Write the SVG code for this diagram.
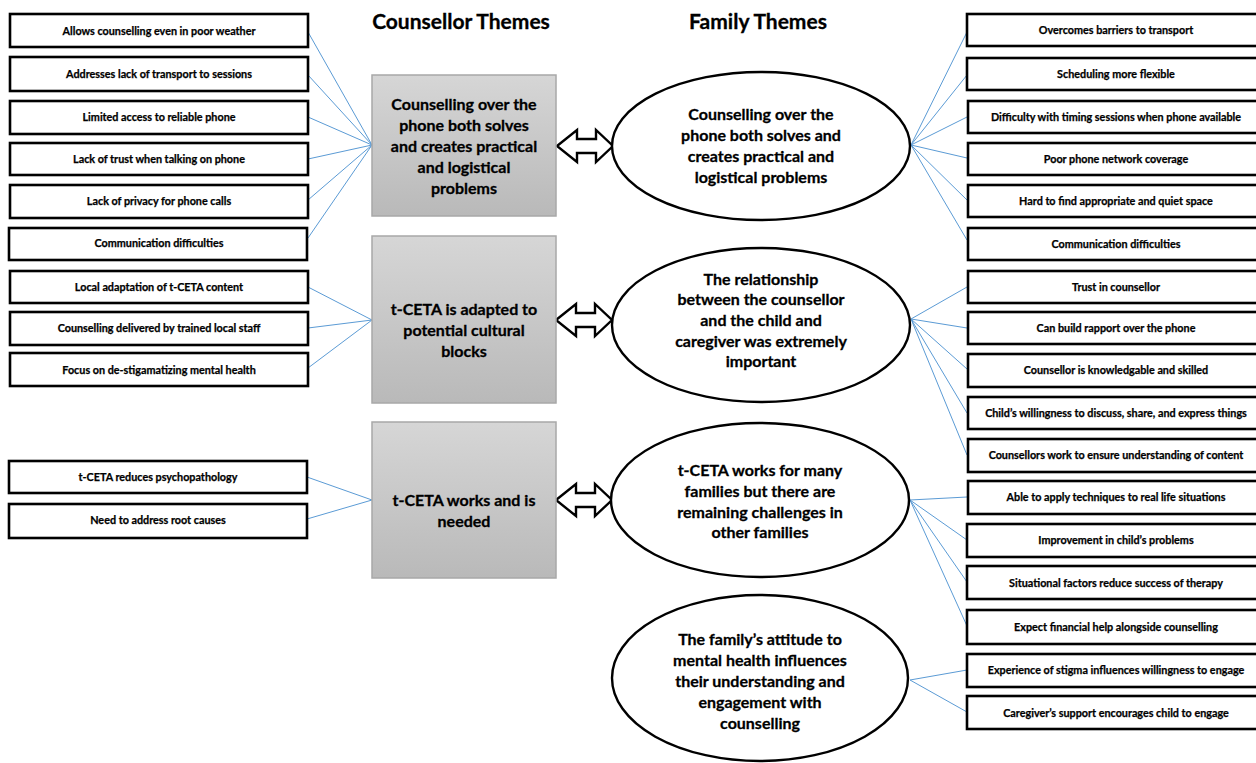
<svg xmlns="http://www.w3.org/2000/svg" width="1256" height="763" viewBox="0 0 1256 763">
<defs>
<linearGradient id="gg" x1="0" y1="0" x2="0" y2="1">
<stop offset="0" stop-color="#d6d6d6"/>
<stop offset="1" stop-color="#b9b9b9"/>
</linearGradient>
<style>
.sb{fill:#fff;stroke:#000;stroke-width:2.6}
.st{font-family:Lato,"Liberation Sans",sans-serif;font-weight:bold;font-size:10.8px;fill:#000;stroke:#000;stroke-width:0.25;text-anchor:middle}
.gb{fill:url(#gg);stroke:#a8a8a8;stroke-width:1.5}
.bt{font-family:Lato,"Liberation Sans",sans-serif;font-weight:bold;font-size:16px;fill:#000;stroke:#000;stroke-width:0.3;text-anchor:middle}
.el{fill:#fff;stroke:#000;stroke-width:2.4}
.ti{font-family:Lato,"Liberation Sans",sans-serif;font-weight:bold;font-size:21px;fill:#000;stroke:#000;stroke-width:0.3;text-anchor:middle}
.ar{fill:#fff;stroke:#000;stroke-width:2.4;stroke-linejoin:miter}
.cn line{stroke:#5b9bd5;stroke-width:1}
</style>
</defs>
<rect width="1256" height="763" fill="#fff"/>
<text class="ti" x="461" y="29">Counsellor Themes</text>
<text class="ti" x="758" y="29">Family Themes</text>

<g id="connectors" class="cn">
<line x1="308" y1="32" x2="372" y2="145"/>
<line x1="308" y1="75" x2="372" y2="145"/>
<line x1="308" y1="117" x2="372" y2="145"/>
<line x1="308" y1="159" x2="372" y2="145"/>
<line x1="308" y1="200" x2="372" y2="145"/>
<line x1="308" y1="238" x2="372" y2="145"/>
<line x1="308" y1="287" x2="372" y2="320"/>
<line x1="308" y1="328" x2="372" y2="320"/>
<line x1="308" y1="368" x2="372" y2="320"/>
<line x1="307" y1="477" x2="372" y2="500"/>
<line x1="307" y1="519" x2="372" y2="500"/>
<line x1="911" y1="145" x2="967" y2="32"/>
<line x1="911" y1="145" x2="967" y2="75"/>
<line x1="911" y1="145" x2="967" y2="117"/>
<line x1="911" y1="145" x2="967" y2="158"/>
<line x1="911" y1="145" x2="967" y2="200"/>
<line x1="911" y1="145" x2="967" y2="240"/>
<line x1="911" y1="319" x2="967" y2="287"/>
<line x1="911" y1="319" x2="967" y2="328"/>
<line x1="911" y1="319" x2="967" y2="369"/>
<line x1="911" y1="319" x2="967" y2="413"/>
<line x1="911" y1="319" x2="967" y2="455"/>
<line x1="910" y1="500" x2="967" y2="497"/>
<line x1="910" y1="500" x2="967" y2="540"/>
<line x1="910" y1="500" x2="967" y2="582"/>
<line x1="910" y1="500" x2="967" y2="626"/>
<line x1="910" y1="680" x2="967" y2="670"/>
<line x1="910" y1="680" x2="967" y2="712"/>
</g>

<g id="arrows">
<polygon class="ar" points="557,146 577,130 577,139 596,139 596,130 613,146 596,162 596,153 577,153 577,162"/>
<polygon class="ar" points="556,320 576,304 576,313 595,313 595,304 612,320 595,336 595,327 576,327 576,336"/>
<polygon class="ar" points="556,500 576,484 576,493 595,493 595,484 612,500 595,516 595,507 576,507 576,516"/>
</g>

<g id="left-boxes">
<g id="l1"><rect class="sb" x="10" y="14" width="298" height="33"/><text class="st" x="159" y="35">Allows counselling even in poor weather</text></g>
<g id="l2"><rect class="sb" x="10" y="57" width="298" height="34"/><text class="st" x="159" y="78">Addresses lack of transport to sessions</text></g>
<g id="l3"><rect class="sb" x="10" y="101" width="298" height="33"/><text class="st" x="159" y="121">Limited access to reliable phone</text></g>
<g id="l4"><rect class="sb" x="10" y="143" width="298" height="32"/><text class="st" x="159" y="163">Lack of trust when talking on phone</text></g>
<g id="l5"><rect class="sb" x="10" y="185" width="298" height="33"/><text class="st" x="159" y="205">Lack of privacy for phone calls</text></g>
<g id="l6"><rect class="sb" x="9" y="228" width="298" height="32"/><text class="st" x="159" y="247">Communication difficulties</text></g>
<g id="l7"><rect class="sb" x="10" y="271" width="298" height="32"/><text class="st" x="159" y="291">Local adaptation of t-CETA content</text></g>
<g id="l8"><rect class="sb" x="10" y="312" width="298" height="33"/><text class="st" x="159" y="332">Counselling delivered by trained local staff</text></g>
<g id="l9"><rect class="sb" x="10" y="353" width="298" height="33"/><text class="st" x="159" y="374">Focus on de-stigamatizing mental health</text></g>
<g id="l10"><rect class="sb" x="9" y="461" width="298" height="32"/><text class="st" x="158" y="481">t-CETA reduces psychopathology</text></g>
<g id="l11"><rect class="sb" x="9" y="504" width="298" height="34"/><text class="st" x="158" y="524">Need to address root causes</text></g>
</g>

<g id="counsellor-themes">
<g id="c1"><rect class="gb" x="372" y="75" width="184" height="141"/>
<text class="bt" x="464" y="110">Counselling over the</text>
<text class="bt" x="464" y="131">phone both solves</text>
<text class="bt" x="464" y="152">and creates practical</text>
<text class="bt" x="464" y="173">and logistical</text>
<text class="bt" x="464" y="194">problems</text></g>
<g id="c2"><rect class="gb" x="372" y="236" width="184" height="167"/>
<text class="bt" x="464" y="315">t-CETA is adapted to</text>
<text class="bt" x="464" y="336">potential cultural</text>
<text class="bt" x="464" y="357">blocks</text></g>
<g id="c3"><rect class="gb" x="372" y="422" width="184" height="156"/>
<text class="bt" x="464" y="506">t-CETA works and is</text>
<text class="bt" x="464" y="527">needed</text></g>
</g>

<g id="family-themes">
<g id="f1"><ellipse class="el" cx="761" cy="146" rx="149" ry="74"/>
<text class="bt" x="761" y="120">Counselling over the</text>
<text class="bt" x="761" y="141">phone both solves and</text>
<text class="bt" x="761" y="162">creates practical and</text>
<text class="bt" x="761" y="183">logistical problems</text></g>
<g id="f2"><ellipse class="el" cx="761" cy="325" rx="149" ry="77"/>
<text class="bt" x="761" y="285">The relationship</text>
<text class="bt" x="761" y="305">between the counsellor</text>
<text class="bt" x="761" y="326">and the child and</text>
<text class="bt" x="761" y="347">caregiver was extremely</text>
<text class="bt" x="761" y="367">important</text></g>
<g id="f3"><ellipse class="el" cx="760" cy="500" rx="149" ry="77"/>
<text class="bt" x="760" y="476">t-CETA works for many</text>
<text class="bt" x="760" y="497">families but there are</text>
<text class="bt" x="760" y="518">remaining challenges in</text>
<text class="bt" x="760" y="538">other families</text></g>
<g id="f4"><ellipse class="el" cx="760" cy="678" rx="148" ry="83"/>
<text class="bt" x="760" y="645">The family’s attitude to</text>
<text class="bt" x="760" y="666">mental health influences</text>
<text class="bt" x="760" y="687">their understanding and</text>
<text class="bt" x="760" y="708">engagement with</text>
<text class="bt" x="760" y="729">counselling</text></g>
</g>

<g id="right-boxes">
<g id="r1"><rect class="sb" x="967" y="14" width="300" height="32"/><text class="st" x="1116" y="34">Overcomes barriers to transport</text></g>
<g id="r2"><rect class="sb" x="967" y="58" width="300" height="32"/><text class="st" x="1116" y="78">Scheduling more flexible</text></g>
<g id="r3"><rect class="sb" x="968" y="101" width="300" height="32"/><text class="st" x="1116" y="121">Difficulty with timing sessions when phone available</text></g>
<g id="r4"><rect class="sb" x="968" y="143" width="300" height="32"/><text class="st" x="1116" y="163">Poor phone network coverage</text></g>
<g id="r5"><rect class="sb" x="968" y="185" width="300" height="32"/><text class="st" x="1116" y="205">Hard to find appropriate and quiet space</text></g>
<g id="r6"><rect class="sb" x="968" y="228" width="300" height="32"/><text class="st" x="1116" y="248">Communication difficulties</text></g>
<g id="r7"><rect class="sb" x="968" y="271" width="300" height="32"/><text class="st" x="1116" y="291">Trust in counsellor</text></g>
<g id="r8"><rect class="sb" x="968" y="312" width="300" height="32"/><text class="st" x="1116" y="332">Can build rapport over the phone</text></g>
<g id="r9"><rect class="sb" x="968" y="354" width="300" height="33"/><text class="st" x="1116" y="374">Counsellor is knowledgable and skilled</text></g>
<g id="r10"><rect class="sb" x="968" y="397" width="300" height="32"/><text class="st" x="1116" y="417">Child’s willingness to discuss, share, and express things</text></g>
<g id="r11"><rect class="sb" x="968" y="439" width="300" height="33"/><text class="st" x="1116" y="459">Counsellors work to ensure understanding of content</text></g>
<g id="r12"><rect class="sb" x="968" y="481" width="300" height="33"/><text class="st" x="1116" y="501">Able to apply techniques to real life situations</text></g>
<g id="r13"><rect class="sb" x="967" y="524" width="300" height="33"/><text class="st" x="1116" y="544">Improvement in child’s problems</text></g>
<g id="r14"><rect class="sb" x="967" y="566" width="300" height="33"/><text class="st" x="1116" y="587">Situational factors reduce success of therapy</text></g>
<g id="r15"><rect class="sb" x="967" y="610" width="300" height="34"/><text class="st" x="1116" y="631">Expect financial help alongside counselling</text></g>
<g id="r16"><rect class="sb" x="967" y="654" width="300" height="33"/><text class="st" x="1116" y="674">Experience of stigma influences willingness to engage</text></g>
<g id="r17"><rect class="sb" x="967" y="696" width="300" height="33"/><text class="st" x="1116" y="717">Caregiver’s support encourages child to engage</text></g>
</g>
</svg>
